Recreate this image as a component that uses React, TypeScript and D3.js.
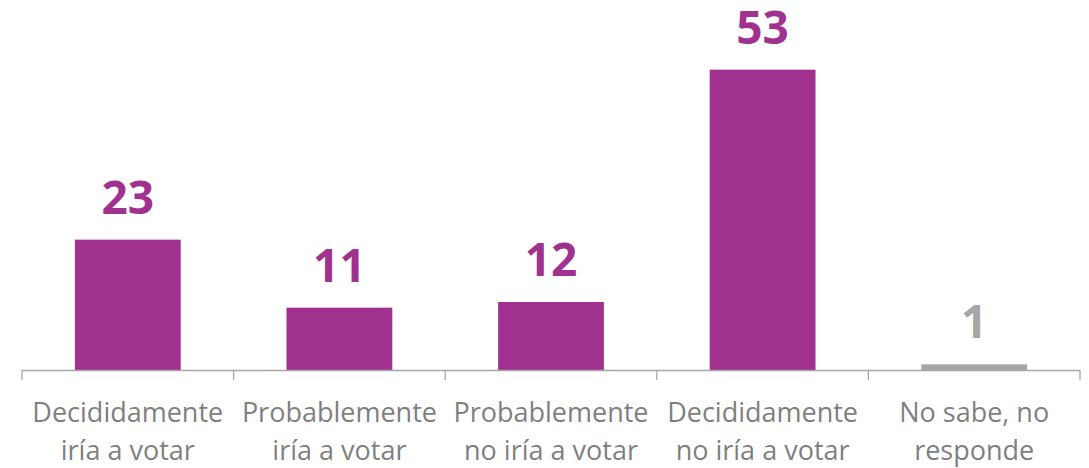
import React from "react";
import * as d3 from "d3";

const categories: string[][] = [
  ["Decididamente", "iría a votar"],
  ["Probablemente", "iría a votar"],
  ["Probablemente", "no iría a votar"],
  ["Decididamente", "no iría a votar"],
  ["No sabe, no", "responde"],
];
const values: number[] = [23, 11, 12, 53, 1];
const barColors: string[] = ["#A0318F", "#A0318F", "#A0318F", "#A0318F", "#A6A6A6"];

const W = 1089;
const H = 468;
const left = 22;
const right = 1080;
const baseline = 370;

export default function App() {
  const idx = values.map((_, i) => String(i));
  const x = d3.scaleBand<string>().domain(idx).range([left, right]).paddingInner(0.5).paddingOuter(0.25);
  const y = d3.scaleLinear().domain([0, 60]).range([baseline, 30]);
  const step = x.step();
  const font = "'Open Sans', sans-serif";
  return (
    <svg width={W} height={H} style={{ position: "absolute", left: 0, top: 0 }}>
      <rect width={W} height={H} fill="#fff" />
      {values.map((v, i) => (
        <rect
          key={"b" + i}
          x={x(String(i))}
          y={y(v)}
          width={x.bandwidth()}
          height={baseline - y(v)}
          fill={barColors[i]}
        />
      ))}
      <line x1={left} x2={right} y1={baseline + 0.5} y2={baseline + 0.5} stroke="#A6A6A6" strokeWidth={1.3} />
      {d3.range(values.length + 1).map((i) => (
        <line
          key={"t" + i}
          x1={left + i * step}
          x2={left + i * step}
          y1={baseline}
          y2={baseline + 10}
          stroke="#A6A6A6"
          strokeWidth={1.3}
        />
      ))}
      {values.map((v, i) => (
        <text
          key={"v" + i}
          x={(x(String(i)) as number) + x.bandwidth() / 2}
          y={y(v) - 26}
          textAnchor="middle"
          fontFamily={font}
          fontWeight={700}
          fontSize={46}
          fill={barColors[i]}
        >
          {v}
        </text>
      ))}
      {categories.map((lines, i) => (
        <text
          key={"c" + i}
          x={(x(String(i)) as number) + x.bandwidth() / 2}
          textAnchor="middle"
          fontFamily={font}
          fontSize={27}
          fill="#7F7F7F"
        >
          {lines.map((l, j) => (
            <tspan key={j} x={(x(String(i)) as number) + x.bandwidth() / 2} y={422 + j * 38}>
              {l}
            </tspan>
          ))}
        </text>
      ))}
    </svg>
  );
}
